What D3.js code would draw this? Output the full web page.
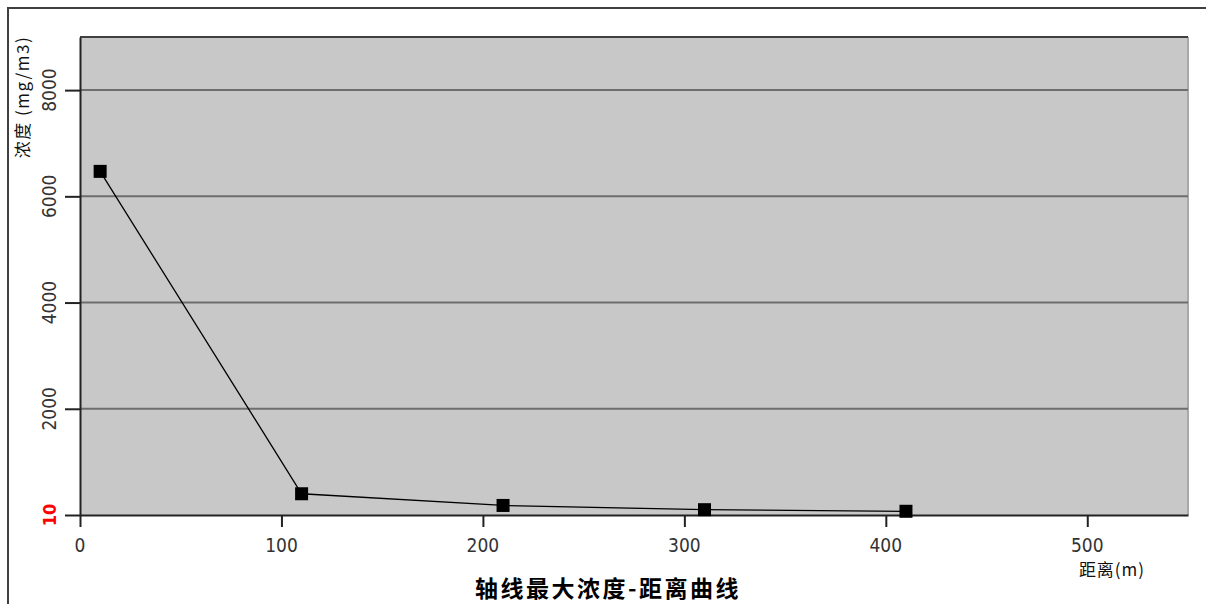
<!DOCTYPE html>
<html><head><meta charset="utf-8">
<script src="https://cdn.jsdelivr.net/npm/d3@7"></script>
<style>
html,body{margin:0;padding:0;background:#fff;}
svg{display:block;}
</style></head>
<body>
<script>
const distances = [10, 110, 210, 310, 410];
const concentrations = [6470, 400, 180, 100, 70];
const yTickValues = [0, 2000, 4000, 6000, 8000];
const yTickLabels = ["10", "2000", "4000", "6000", "8000"];
const xTickValues = [0, 100, 200, 300, 400, 500];
const title = "轴线最大浓度-距离曲线";
const xTitle = "距离(m)";
const yTitle = "浓度 (mg/m3)";

const W = 1206, H = 604;
const plot = {left: 80, right: 1188, top: 37, bottom: 515};

const svg = d3.select("body").append("svg").attr("width", W).attr("height", H);

// outer frame
svg.append("path").attr("d", `M8,${H} L8,8 L${W},8`).attr("fill", "none")
  .attr("stroke", "#404040").attr("stroke-width", 2);

const x = d3.scaleLinear().domain([0, 550]).range([plot.left, plot.right]);
const y = d3.scaleLinear().domain([0, 9000]).range([plot.bottom, plot.top]);

// plot background
svg.append("rect").attr("x", plot.left).attr("y", plot.top)
  .attr("width", plot.right - plot.left).attr("height", plot.bottom - plot.top)
  .attr("fill", "#c8c8c8");
// right edge
svg.append("line").attr("x1", plot.right).attr("x2", plot.right).attr("y1", plot.top).attr("y2", plot.bottom)
  .attr("stroke", "#a8a8a8").attr("stroke-width", 2);
// top edge
svg.append("line").attr("x1", plot.left).attr("x2", plot.right).attr("y1", plot.top).attr("y2", plot.top)
  .attr("stroke", "#404040").attr("stroke-width", 2);

// gridlines
svg.append("g").selectAll("line").data(yTickValues.filter(d => d > 0)).join("line")
  .attr("x1", plot.left).attr("x2", plot.right)
  .attr("y1", d => y(d)).attr("y2", d => y(d))
  .attr("stroke", "#6e6e6e").attr("stroke-width", 2);

// y axis
const yAxis = svg.append("g").attr("transform", `translate(${plot.left},0)`)
  .call(d3.axisLeft(y).tickValues(yTickValues).tickSize(15).tickSizeOuter(0).tickFormat(""));
yAxis.select(".domain").attr("stroke", "#222").attr("stroke-width", 2);
yAxis.selectAll(".tick line").attr("stroke", "#222").attr("stroke-width", 2);

// y tick labels rotated
svg.append("g").selectAll("text").data(yTickValues).join("text")
  .attr("transform", d => `translate(56,${y(d)}) rotate(-90)`)
  .attr("text-anchor", "middle")
  .attr("font-family", "'DejaVu Sans Condensed','DejaVu Sans',sans-serif")
  .attr("font-size", (d, i) => i === 0 ? 18 : 19)
  .attr("font-weight", (d, i) => i === 0 ? "bold" : "normal")
  .attr("fill", (d, i) => i === 0 ? "#ff0000" : "#333")
  .text((d, i) => yTickLabels[i]);

// x axis
const xAxis = svg.append("g").attr("transform", `translate(0,${plot.bottom})`)
  .call(d3.axisBottom(x).tickValues(xTickValues).tickSize(12).tickSizeOuter(0).tickFormat(""));
xAxis.select(".domain").attr("stroke", "#222").attr("stroke-width", 2);
xAxis.selectAll(".tick line").attr("stroke", "#222").attr("stroke-width", 2);

svg.append("g").selectAll("text").data(xTickValues).join("text")
  .attr("x", d => x(d)).attr("y", 552)
  .attr("text-anchor", "middle")
  .attr("font-family", "'DejaVu Sans Condensed','DejaVu Sans',sans-serif")
  .attr("font-size", 19).attr("fill", "#333")
  .text(d => d);

// line
const line = d3.line().x((d, i) => x(distances[i])).y(d => y(d));
svg.append("path").datum(concentrations).attr("d", line)
  .attr("fill", "none").attr("stroke", "#000").attr("stroke-width", 1.3);

// markers
svg.append("g").selectAll("rect").data(concentrations).join("rect")
  .attr("x", (d, i) => x(distances[i]) - 6.5).attr("y", d => y(d) - 6.5)
  .attr("width", 13).attr("height", 13).attr("fill", "#000");

// axis titles
svg.append("text").attr("x", 1112).attr("y", 576).attr("text-anchor", "middle")
  .attr("font-family", "'Noto Sans CJK SC',sans-serif").attr("font-size", 17).attr("fill", "#111")
  .attr("letter-spacing", 1)
  .text(xTitle);

svg.append("text").attr("transform", "translate(29,97) rotate(-90)").attr("text-anchor", "middle")
  .attr("font-family", "'Noto Sans CJK SC',sans-serif").attr("font-size", 17).attr("fill", "#111")
  .attr("letter-spacing", 1.5)
  .text(yTitle);

svg.append("text").attr("x", 608).attr("y", 597).attr("text-anchor", "middle")
  .attr("font-family", "'Noto Sans CJK SC',sans-serif").attr("font-size", 23).attr("font-weight", "bold")
  .attr("letter-spacing", 2.5).attr("fill", "#000")
  .text(title);
</script>
</body></html>
